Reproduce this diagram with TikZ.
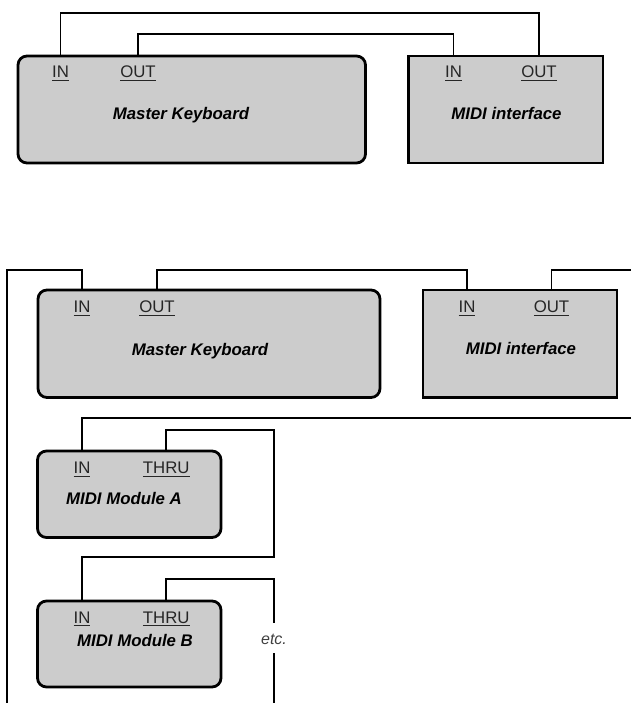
\documentclass[tikz,border=0pt]{standalone}
\usepackage{fontspec}
\setmainfont{Liberation Sans}
\newcommand{\portname}[1]{\leavevmode\setbox0=\hbox{#1}\rlap{\vrule height -2.4pt depth 3.4pt width \wd0}\box0}
\definecolor{boxgray}{HTML}{CCCCCC}
\begin{document}
\begin{tikzpicture}[x=1pt,y=-1pt,
  devbox/.style={draw=black, fill=boxgray, line width=2.8pt, outer sep=0pt, inner sep=0pt, anchor=north west},
  rbox/.style={devbox, rounded corners=9pt},
  port/.style={font=\fontsize{16.8}{20}\selectfont, inner sep=0pt, anchor=base, text=black!85},
  dev/.style={font=\fontsize{16.8}{20}\selectfont\bfseries\itshape, inner sep=0pt, anchor=base},
  wire/.style={draw=black, line width=1.7pt},
  note/.style={font=\fontsize{16}{20}\selectfont\itshape, inner sep=0pt, anchor=base, text=black!75}]
\useasboundingbox (0,0) rectangle (631,703);

% ---------- top diagram ----------
\node[rbox, minimum width=347.5pt, minimum height=107pt] (tmk) at (18,56) {};
\node[devbox, minimum width=194.7pt, minimum height=107pt] (tmi) at (408.3,56) {};
\node[port] (tmkin) at (60.5,77.3) {\portname{IN}};
\node[port] (tmkout) at (138,77.3) {\portname{OUT}};
\node[port] (tmiin) at (453.5,77.3) {\portname{IN}};
\node[port] (tmiout) at (539,77.3) {\portname{OUT}};
\node[dev] (tmkt) at (181,120) {Master Keyboard};
\node[dev] (tmit) at (506.5,120) {MIDI interface};

\coordinate (ta) at (0,13.3);
\coordinate (tb) at (0,34);
\draw[wire] (tmkin |- tmk.north) -- (tmkin |- ta) -| (tmiout |- tmi.north);
\draw[wire] (tmkout |- tmk.north) -- (tmkout |- tb) -| (tmiin |- tmi.north);

% ---------- bottom diagram ----------
\node[rbox, minimum width=342pt, minimum height=107.5pt] (bmk) at (38,290) {};
\node[devbox, minimum width=194pt, minimum height=107.5pt] (bmi) at (423,290) {};
\node[port] (bmkin) at (82,312.3) {\portname{IN}};
\node[port] (bmkout) at (157,312.3) {\portname{OUT}};
\node[port] (bmiin) at (467,312.3) {\portname{IN}};
\node[port] (bmiout) at (551.5,312.3) {\portname{OUT}};
\node[dev] (bmkt) at (200,355) {Master Keyboard};
\node[dev] (bmit) at (521,354.5) {MIDI interface};

\node[rbox, minimum width=183.5pt, minimum height=86.5pt] (ma) at (37.5,451) {};
\node[port] (main) at (82,473.5) {\portname{IN}};
\node[port] (mathru) at (166.3,473.5) {\portname{THRU}};
\node[dev] (mat) at (124,504.5) {MIDI Module A};

\node[rbox, minimum width=183.5pt, minimum height=86pt] (mb) at (37.5,601) {};
\node[port] (mbin) at (82,623) {\portname{IN}};
\node[port] (mbthru) at (166.3,623) {\portname{THRU}};
\node[dev] (mbt) at (135,646) {MIDI Module B};
\node[note] (etc) at (274,644) {etc.};

\coordinate (ba) at (0,270);
\coordinate (lft) at (6.7,703);
\coordinate (rt) at (631,0);
\coordinate (bb) at (0,418.3);
\coordinate (ca) at (274.3,430);
\coordinate (cb) at (0,556.7);
\coordinate (cc) at (274.3,579);
\coordinate (ea) at (274.3,623);
\coordinate (eb) at (274.3,653);
\coordinate (bot) at (0,703);

\draw[wire] (bmkin |- bmk.north) -- (bmkin |- ba) -| (lft);
\draw[wire] (bmkout |- bmk.north) -- (bmkout |- ba) -| (bmiin |- bmi.north);
\draw[wire] (bmiout |- bmi.north) -- (bmiout |- ba) -- (rt |- ba);
\draw[wire] (rt |- bb) -| (main |- ma.north);
\draw[wire] (mathru |- ma.north) |- (ca) -- (ca |- cb) -| (mbin |- mb.north);
\draw[wire] (mbthru |- mb.north) |- (cc) -- (ea);
\draw[wire] (eb) -- (eb |- bot);
\end{tikzpicture}
\end{document}
